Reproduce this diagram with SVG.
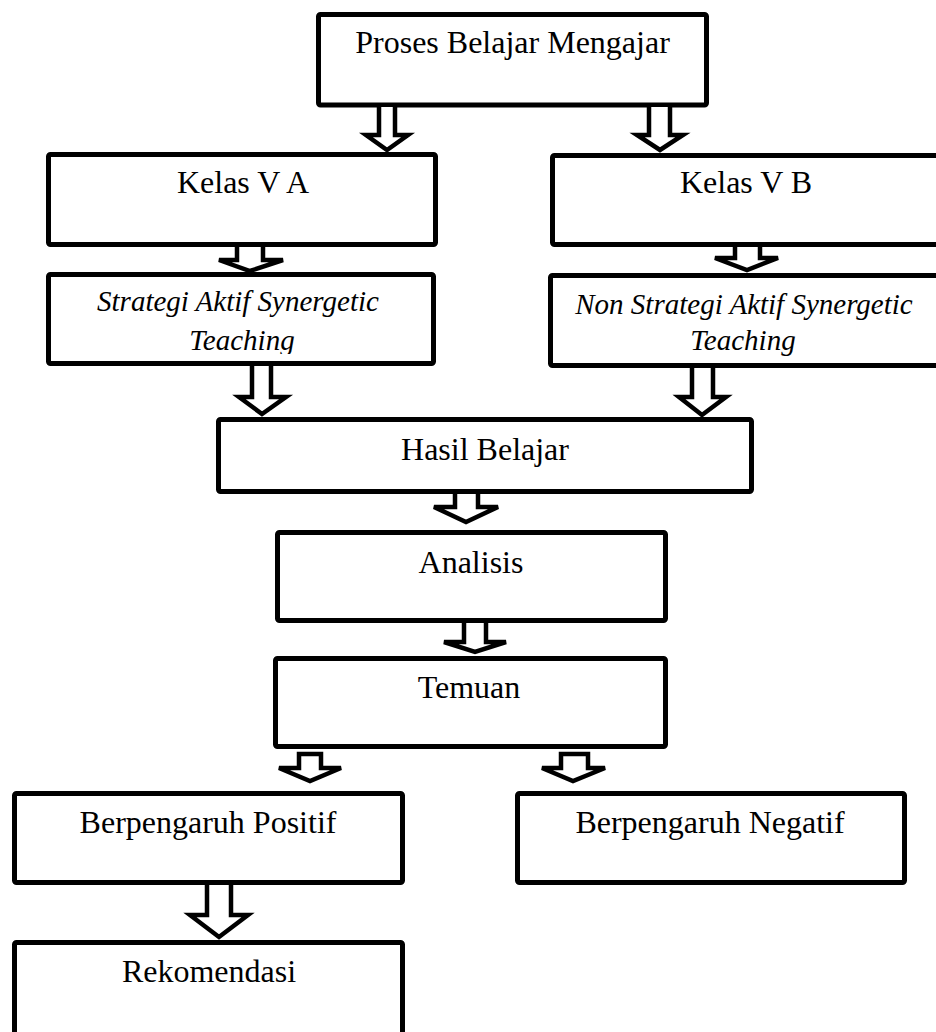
<svg xmlns="http://www.w3.org/2000/svg" width="936" height="1032" viewBox="0 0 936 1032">
<style>
.box{fill:#fff;stroke:#000;stroke-width:5;stroke-linejoin:round}
.arr{fill:#fff;stroke:#000;stroke-width:4.5;stroke-linejoin:miter}
.t{font-family:"Liberation Serif","Times New Roman",serif;font-size:32px;fill:#000;text-anchor:middle}
.i{font-family:"Liberation Serif","Times New Roman",serif;font-size:29px;font-style:italic;fill:#000;text-anchor:middle}
</style>
<defs>
<clipPath id="clipS"><rect x="40" y="270" width="400" height="84"/></clipPath>
</defs>
<rect width="936" height="1032" fill="#fff"/>
<g id="nodes">
<g id="n-proses"><rect class="box" x="318.5" y="14.5" width="388" height="90.5" rx="2"/><text class="t" x="512.5" y="53">Proses Belajar Mengajar</text></g>
<g id="n-kelasva"><rect class="box" x="48.5" y="154.5" width="387" height="90" rx="2"/><text class="t" x="243" y="193">Kelas V A</text></g>
<g id="n-kelasvb"><rect class="box" x="552.5" y="155.5" width="400" height="89" rx="2"/><text class="t" x="746" y="193">Kelas V B</text></g>
<g id="n-strategi"><rect class="box" x="48.5" y="274.5" width="385" height="89" rx="2"/><g clip-path="url(#clipS)"><text class="i" x="238" y="311">Strategi Aktif Synergetic</text><text class="i" x="242" y="350">Teaching</text></g></g>
<g id="n-nonstrategi"><rect class="box" x="550.5" y="275.5" width="400" height="90" rx="2"/><text class="i" x="744" y="314">Non Strategi Aktif Synergetic</text><text class="i" x="743" y="350">Teaching</text></g>
<g id="n-hasil"><rect class="box" x="218.5" y="419.5" width="533" height="72" rx="2"/><text class="t" x="485" y="460">Hasil Belajar</text></g>
<g id="n-analisis"><rect class="box" x="277.5" y="532.5" width="388" height="88" rx="2"/><text class="t" x="471" y="573">Analisis</text></g>
<g id="n-temuan"><rect class="box" x="275.5" y="658.5" width="390" height="88" rx="2"/><text class="t" x="469" y="698">Temuan</text></g>
<g id="n-positif"><rect class="box" x="14.5" y="793.5" width="388" height="89" rx="2"/><text class="t" x="208" y="833">Berpengaruh Positif</text></g>
<g id="n-negatif"><rect class="box" x="517.5" y="793.5" width="387" height="89" rx="2"/><text class="t" x="710" y="833">Berpengaruh Negatif</text></g>
<g id="n-rekomendasi"><rect class="box" x="14.5" y="942.5" width="388" height="110" rx="2"/><text class="t" x="209" y="982">Rekomendasi</text></g>
</g>
<g id="connectors">
<path class="arr" d="M379,107 L379,135 L366,135 L387,150 L408,135 L395,135 L395,107"/>
<path class="arr" d="M649,107 L649,135 L637,135 L660,150 L683,135 L670,135 L670,107"/>
<path class="arr" d="M237,247 L237,260 L219,260 L250,271 L283,260 L263,260 L263,247"/>
<path class="arr" d="M735,247 L735,258 L715,258 L747,270 L778,258 L760,258 L760,247"/>
<path class="arr" d="M252,366 L252,397 L239,397 L262,414 L286,397 L271,397 L271,366"/>
<path class="arr" d="M692,368 L692,397 L679,397 L702,415 L726,397 L713,397 L713,368"/>
<path class="arr" d="M455,494 L455,507 L434,507 L466,522 L498,507 L478,507 L478,494"/>
<path class="arr" d="M464,623 L464,642 L444,642 L475,652 L506,642 L486,642 L486,623"/>
<path class="arr" d="M299,754 L299,768 L279,768 L310,781 L341,768 L321,768 L321,754 Z"/>
<path class="arr" d="M561,754 L561,768 L542,768 L573,781 L605,768 L588,768 L588,754 Z"/>
<path class="arr" d="M207,885 L207,915 L190,915 L219,937 L248,915 L231,915 L231,885"/>
</g>
</svg>
